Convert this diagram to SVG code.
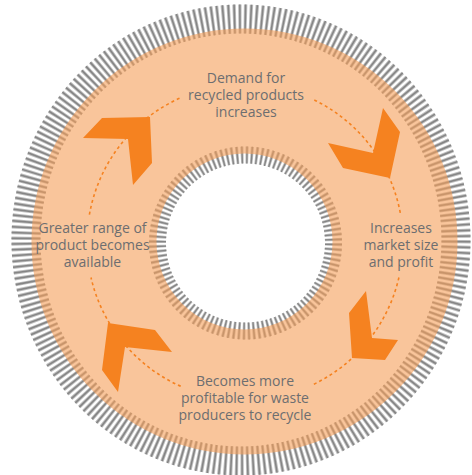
<svg xmlns="http://www.w3.org/2000/svg" width="472" height="475" viewBox="0 0 472 475">
<defs>
<style>
.tk-l{fill:none;stroke:#bdbdbd}
.tk-d{fill:none;stroke:#858585}
.lbl{font-family:"Open Sans","Liberation Sans",sans-serif;font-size:14px;fill:#6d6e70;text-anchor:middle}
.dot{fill:none;stroke:#f58220;stroke-width:1.6;stroke-dasharray:3 3}
.chev{fill:#f58220}
</style>
</defs>
<rect width="472" height="475" fill="#ffffff"/>
<g id="ring">
<ellipse class="tk-l" cx="241" cy="240" rx="215" ry="221" stroke-width="29" pathLength="250" stroke-dasharray="0.6 0.4"/>
<ellipse class="tk-d" cx="241" cy="240" rx="215" ry="221" stroke-width="29" pathLength="250" stroke-dasharray="0.28 0.72" stroke-dashoffset="-0.16"/>
<circle class="tk-l" cx="245.5" cy="243" r="88" stroke-width="17" pathLength="112" stroke-dasharray="0.6 0.4"/>
<circle class="tk-d" cx="245.5" cy="243" r="88" stroke-width="17" pathLength="112" stroke-dasharray="0.28 0.72" stroke-dashoffset="-0.16"/>
<circle cx="244.5" cy="241.5" r="150.5" fill="none" stroke="#f59e58" stroke-width="125" opacity="0.6"/>
</g>
<g id="connectors">
<path class="dot" d="M314.3,100 A158,158 0 0 1 400.6,214.6 M398.9,277.5 A158,158 0 0 1 311.8,385.2 M180.7,386.3 A158,158 0 0 1 91,277.5 M89.4,214.6 A158,158 0 0 1 180.7,97.7"/>
<polygon class="chev" points="383,108 400,132 390,178 343,168 328,143 373,153"/>
<polygon class="chev" points="352,358 349,313 366,291 372,338 398,340 385,360"/>
<polygon class="chev" points="108,323 155,330 172,352 125,347 118,392 102,370"/>
<polygon class="chev" points="150,117 152,163 133,185 128,139 83,138 102,118"/>
</g>
<g id="node-demand">
<text class="lbl" x="246" y="83"><tspan x="246">Demand for</tspan><tspan x="246" dy="17">recycled products</tspan><tspan x="246" dy="17">increases</tspan></text>
</g>
<g id="node-market">
<text class="lbl" x="401" y="233"><tspan x="401">Increases</tspan><tspan x="401" dy="17">market size</tspan><tspan x="401" dy="17">and profit</tspan></text>
</g>
<g id="node-profitable">
<text class="lbl" x="245" y="386"><tspan x="245">Becomes more</tspan><tspan x="245" dy="17">profitable for waste</tspan><tspan x="245" dy="17">producers to recycle</tspan></text>
</g>
<g id="node-range">
<text class="lbl" x="92.5" y="233"><tspan x="92.5">Greater range of</tspan><tspan x="92.5" dy="17">product becomes</tspan><tspan x="92.5" dy="17">available</tspan></text>
</g>
</svg>
